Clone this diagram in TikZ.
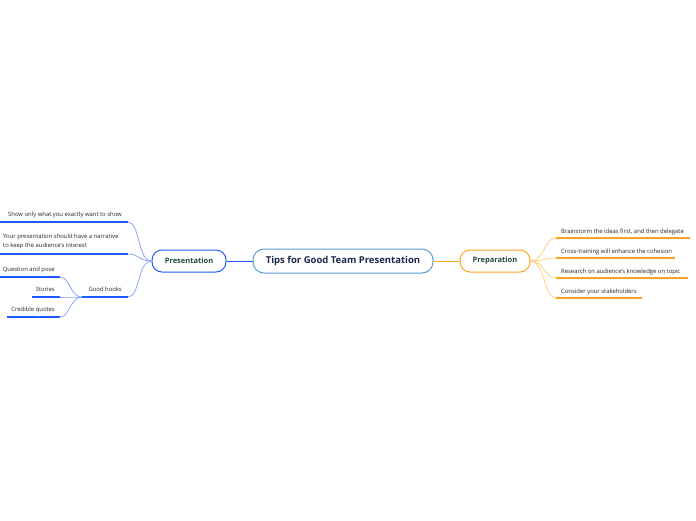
\documentclass[tikz,border=0pt]{standalone}
\usepackage{fontspec}
\setmainfont{Open Sans}
\definecolor{pblue}{HTML}{1F5BFF}
\definecolor{pbluecurve}{HTML}{7C9CFF}
\definecolor{rootblue}{HTML}{5A9BD8}
\definecolor{porange}{HTML}{FFA51F}
\definecolor{porangecurve}{HTML}{FFCC70}
\definecolor{nodegreen}{HTML}{1E4D3B}
\definecolor{rootnavy}{HTML}{1B2A4A}
\definecolor{leaftext}{HTML}{262626}
\tikzset{
  rootbox/.style={draw=rootblue, line width=1pt, rounded corners=11pt, minimum width=180pt, minimum height=24pt, text=rootnavy, font=\fontsize{9.5}{11}\selectfont\bfseries, inner sep=0pt},
  subbox/.style={line width=1pt, rounded corners=10pt, minimum height=22pt, text=nodegreen, font=\fontsize{7.5}{9}\selectfont\bfseries, inner sep=0pt},
  leaf/.style={inner sep=0pt, text=leaftext, font=\fontsize{5.9}{9}\selectfont},
  bline/.style={pblue, line width=1.3pt},
  bcurve/.style={pbluecurve, line width=0.7pt},
  oline/.style={porange, line width=1.3pt},
  ocurve/.style={porangecurve, line width=0.7pt},
}
\begin{document}
\begin{tikzpicture}[x=1pt,y=-1pt]
\useasboundingbox (0,0) rectangle (696,520);
\fill[white] (0,0) rectangle (696,520);

% main nodes
\node[rootbox] (root) at (343,261) {Tips for Good Team Presentation};
\node[subbox, draw=pblue, minimum width=74pt] (pres) at (189,261) {Presentation};
\node[subbox, draw=porange, minimum width=70pt] (prep) at (495,261) {Preparation};
\draw[pblue, line width=0.8pt] (root.west) -- (pres.east);
\draw[porange, line width=0.8pt] (root.east) -- (prep.west);

% right side: Preparation leaves
\coordinate (r1a) at (556,238); \coordinate (r1b) at (690,238);
\coordinate (r2a) at (556,258); \coordinate (r2b) at (675,258);
\coordinate (r3a) at (556,278); \coordinate (r3b) at (688,278);
\coordinate (r4a) at (556,298); \coordinate (r4b) at (642,298);
\node[leaf, anchor=base west] (rt1) at (561,233) {Brainstorm the ideas first, and then delegate};
\node[leaf, anchor=base west] (rt2) at (561,253) {Cross-training will enhance the cohesion};
\node[leaf, anchor=base west] (rt3) at (561,273) {Research on audience's knowledge on topic};
\node[leaf, anchor=base west] (rt4) at (561,293) {Consider your stakeholders};
\foreach \i in {1,2,3,4}{
  \draw[ocurve] (prep.east) .. controls +(14,0) and +(-12,0) .. (r\i a);
  \draw[oline] (r\i a) -- (r\i b);
}

% left side: Presentation leaves
\coordinate (l1a) at (0,222); \coordinate (l1b) at (128,222);
\coordinate (l2a) at (0,254); \coordinate (l2b) at (128,254);
\coordinate (l3a) at (82,297); \coordinate (l3b) at (128,297);
\node[leaf, anchor=base east] (lt1) at (122,216) {Show only what you exactly want to show};
\node[leaf, anchor=south west, align=left, text depth=0pt] (lt2) at (3,248) {Your presentation should have a narrative\\to keep the audience's interest};
\node[leaf, anchor=base east] (lt3) at (122,291) {Good hooks};
\foreach \i in {1,2,3}{
  \draw[bcurve] (pres.west) .. controls +(-14,0) and +(12,0) .. (l\i b);
  \draw[bline] (l\i a) -- (l\i b);
}

% Good hooks children
\coordinate (h1a) at (0,277); \coordinate (h1b) at (60,277);
\coordinate (h2a) at (32,297); \coordinate (h2b) at (60,297);
\coordinate (h3a) at (7,317); \coordinate (h3b) at (60,317);
\node[leaf, anchor=base east] (ht1) at (55,271) {Question and pose};
\node[leaf, anchor=base east] (ht2) at (55,291) {Stories};
\node[leaf, anchor=base east] (ht3) at (55,311) {Credible quotes};
\foreach \i in {1,2,3}{
  \draw[bcurve] (l3a) .. controls +(-12,0) and +(10,0) .. (h\i b);
  \draw[bline] (h\i a) -- (h\i b);
}
\end{tikzpicture}
\end{document}
